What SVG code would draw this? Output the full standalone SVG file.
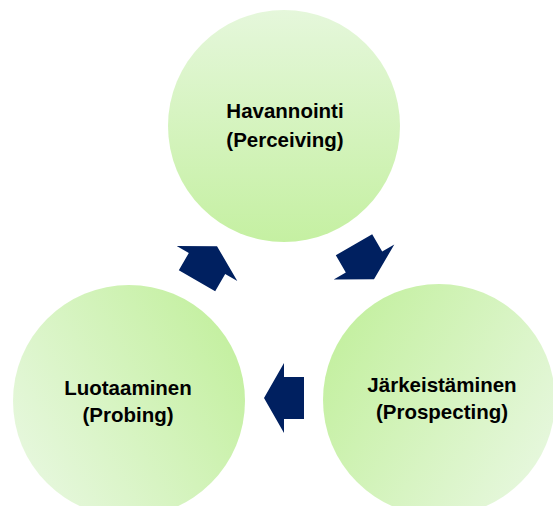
<svg xmlns="http://www.w3.org/2000/svg" width="553" height="506" viewBox="0 0 553 506">
  <defs>
    <linearGradient id="gTop" x1="0.5" y1="0" x2="0.5" y2="1">
      <stop offset="0" stop-color="#e5f7db"/>
      <stop offset="1" stop-color="#c5f0a2"/>
    </linearGradient>
    <linearGradient id="gRight" x1="0.933" y1="0.75" x2="0.067" y2="0.25">
      <stop offset="0" stop-color="#e5f7db"/>
      <stop offset="1" stop-color="#c5f0a2"/>
    </linearGradient>
    <linearGradient id="gLeft" x1="0.067" y1="0.75" x2="0.933" y2="0.25">
      <stop offset="0" stop-color="#e5f7db"/>
      <stop offset="1" stop-color="#c5f0a2"/>
    </linearGradient>
    <path id="arrow" d="M20,0 L0,-35 L0,-21 L-20,-21 L-20,21 L0,21 L0,35 Z"/>
  </defs>
  <style>
    .lbl { font-family: "Liberation Sans", Arial, sans-serif; font-weight: bold; font-size: 20.5px; fill: #000000; text-anchor: middle; }
    .arr { fill: #002060; }
  </style>
  <g id="node-havannointi">
    <circle cx="284" cy="126" r="116" fill="url(#gTop)"/>
    <text class="lbl" x="285" y="118">Havannointi</text>
    <text class="lbl" x="285" y="147">(Perceiving)</text>
  </g>
  <g id="node-jarkeistaminen">
    <circle cx="439" cy="400" r="116" fill="url(#gRight)"/>
    <text class="lbl" x="442" y="392">Järkeistäminen</text>
    <text class="lbl" x="442" y="419">(Prospecting)</text>
  </g>
  <g id="node-luotaaminen">
    <circle cx="129" cy="401" r="116" fill="url(#gLeft)"/>
    <text class="lbl" x="128" y="395">Luotaaminen</text>
    <text class="lbl" x="128" y="422">(Probing)</text>
  </g>
  <g id="connectors">
    <use href="#arrow" class="arr" transform="translate(364,262) rotate(60)"/>
    <use href="#arrow" class="arr" transform="translate(284,398) rotate(180)"/>
    <use href="#arrow" class="arr" transform="translate(207,263.5) rotate(-60)"/>
  </g>
</svg>
